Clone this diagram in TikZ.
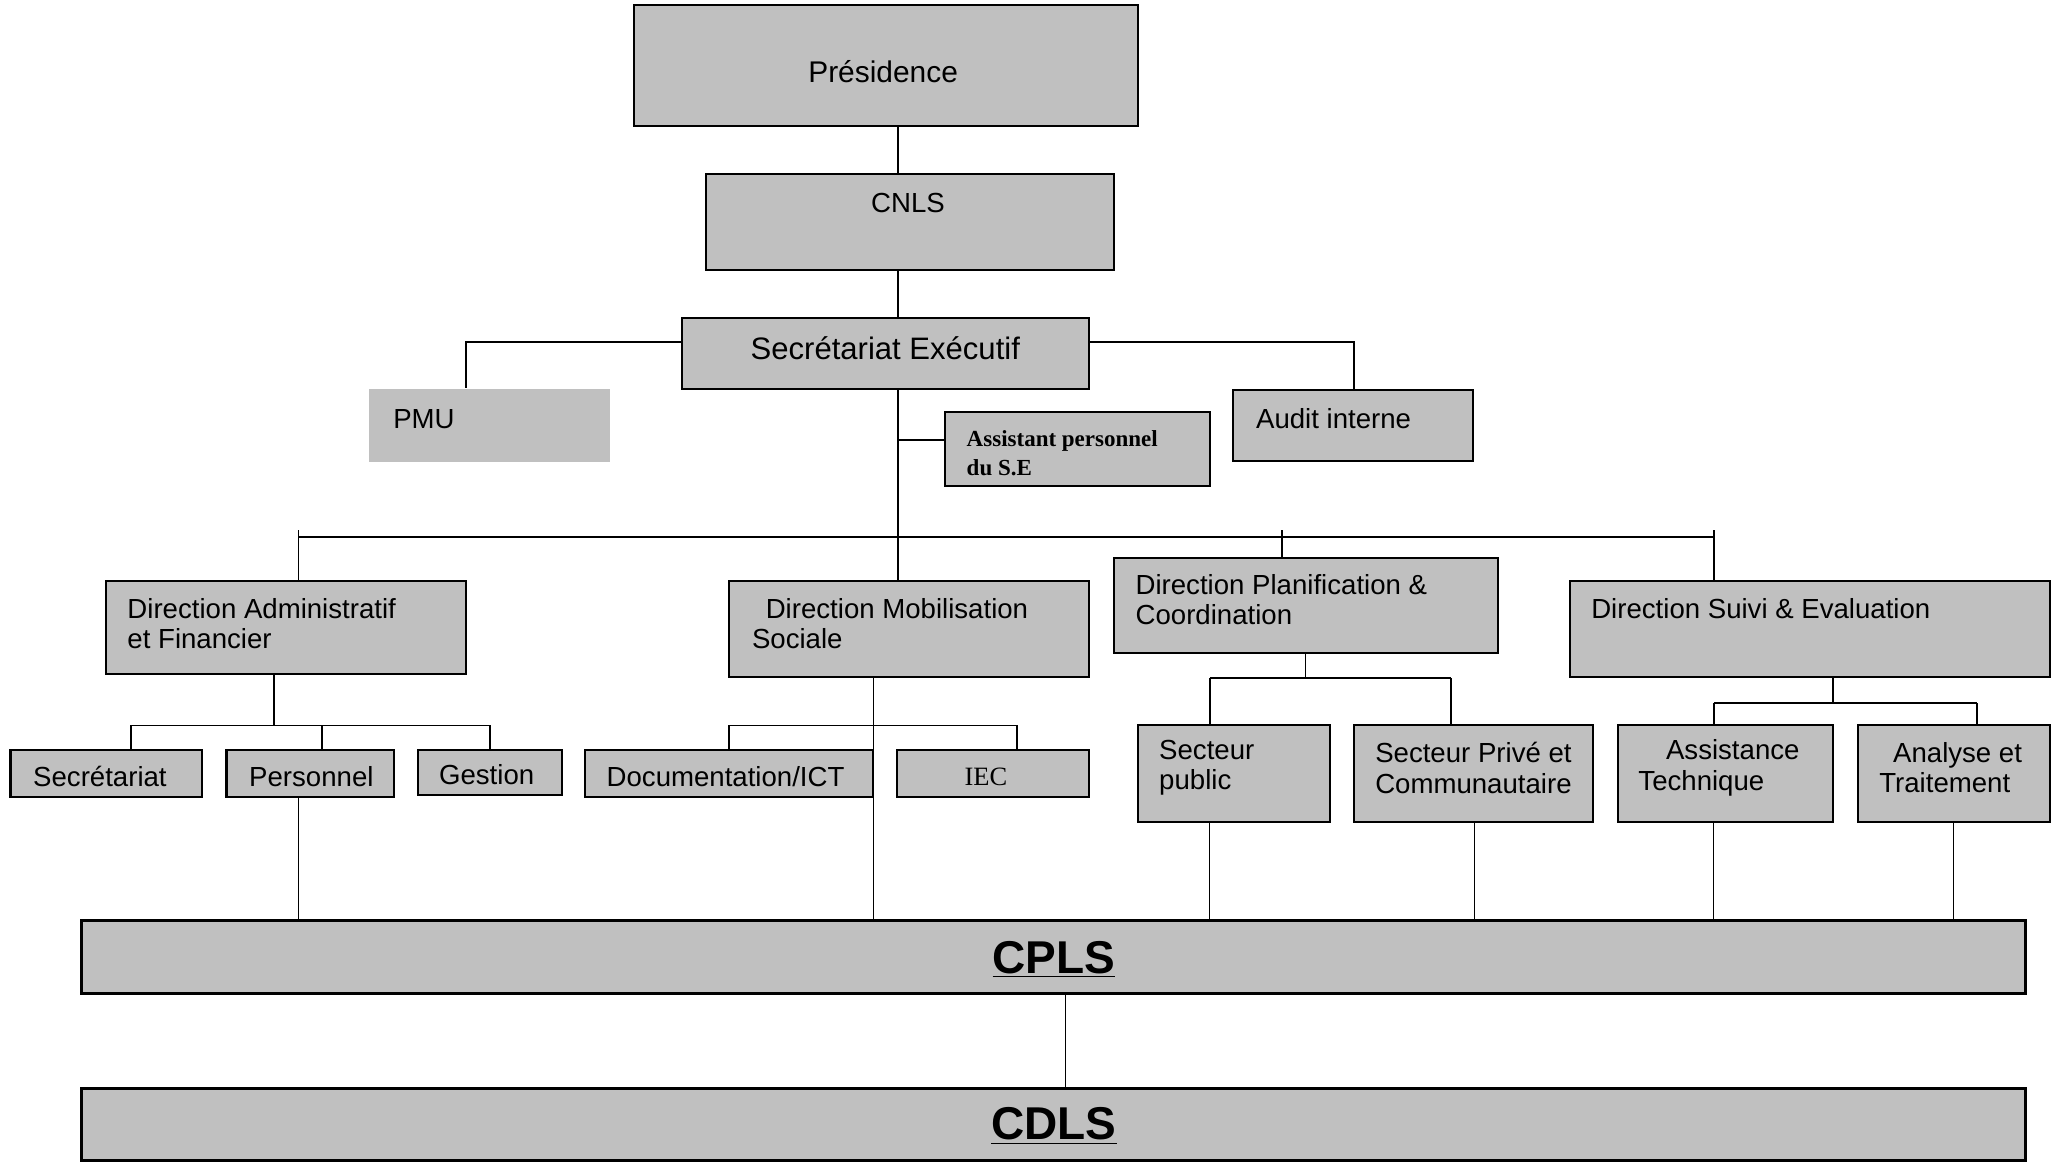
\documentclass[tikz,border=0pt]{standalone}
\usepackage{fontspec}
\setmainfont{Liberation Sans}
\newfontfamily\serifbox{Liberation Serif}
\definecolor{boxgray}{HTML}{C0C0C0}
\newcommand{\orgbox}[6][]{\node[obox,#1,minimum width={(#5-#3)*0.02cm},minimum height={(#6-#4)*0.02cm}] (#2) at ({(#3+#5)/2},{(#4+#6)/2}) {};}
\tikzset{
  obox/.style={draw=black,fill=boxgray,line width=0.9pt,inner sep=0pt,rectangle},
  conn/.style={draw=black,line width=0.75pt},
  thinconn/.style={draw=black,line width=0.5pt},
  lbl/.style={inner sep=0pt,anchor=west,align=left,font=\fontsize{12}{13.2}\selectfont},
  big/.style={inner sep=0pt,font=\fontsize{20}{22}\selectfont\bfseries}
}
\begin{document}
\begin{tikzpicture}[x=0.02cm,y=-0.02cm]
\useasboundingbox (0,0) rectangle (1568,887);
% boxes
\orgbox{pres}{484}{4}{869}{96}
\orgbox{cnls}{539}{133}{851}{206}
\orgbox{se}{521}{243}{832}{297}
\orgbox[draw=none]{pmu}{282}{297}{466}{353}
\orgbox{audit}{942}{298}{1125}{352}
\orgbox{asst}{722}{315}{924}{371}
\orgbox{daf}{81}{444}{356}{515}
\orgbox{dms}{557}{444}{832}{517}
\orgbox{dpc}{851}{426}{1144}{499}
\orgbox{dse}{1199}{444}{1566}{517}
\orgbox{sec}{8}{573}{154}{609}
\orgbox{pers}{173}{573}{301}{609}
\orgbox{gest}{319}{573}{429}{607}
\orgbox{doc}{447}{573}{667}{609}
\orgbox{iec}{685}{573}{832}{609}
\orgbox{spub}{869}{554}{1016}{628}
\orgbox{spriv}{1034}{554}{1217}{628}
\orgbox{at}{1236}{554}{1400}{628}
\orgbox{ant}{1419}{554}{1566}{628}
\orgbox[line width=1.3pt]{cpls}{62}{703}{1547}{759}
\orgbox[line width=1.3pt]{cdls}{62}{831}{1547}{886}
% texts
\node[lbl,font=\fontsize{13}{14}\selectfont] (tpres) at (617,55) {Présidence};
\node[lbl] (tcnls) at (665,155) {CNLS};
\node[lbl,font=\fontsize{13.5}{14}\selectfont] (tse) at (573,266) {Secrétariat Exécutif};
\node[lbl] (tpmu) at (300,320) {PMU};
\node[lbl] (taudit) at (959,320) {Audit interne};
\node[lbl,font=\fontsize{10}{12.4}\selectfont\serifbox\bfseries] (tasst) at (738,346) {Assistant personnel\\du S.E};
\node[lbl] (tdaf) at (97,476.5) {Direction Administratif\\et Financier};
\node[lbl] (tdms) at (574,476.5) {\hspace*{6pt}Direction Mobilisation\\Sociale};
\node[lbl] (tdpc) at (867,458) {Direction Planification \&\\Coordination};
\node[lbl] (tdse) at (1215,465) {Direction Suivi \& Evaluation};
\node[lbl] (tsec) at (25,593) {Secrétariat};
\node[lbl] (tpers) at (190,593) {Personnel};
\node[lbl] (tgest) at (335,592) {Gestion};
\node[lbl] (tdoc) at (463,593) {Documentation/ICT};
\node[inner sep=0pt,font=\fontsize{11.5}{12}\selectfont\serifbox] (tiec) at (753,593) {IEC};
\node[lbl] (tspub) at (885,586.5) {Secteur\\public};
\node[lbl] (tspriv) at (1050,586.5) {Secteur Privé et\\Communautaire};
\node[lbl] (tat) at (1251,586.5) {\hspace*{12pt}Assistance\\Technique};
\node[lbl] (tant) at (1435,586.5) {\hspace*{6pt}Analyse et\\Traitement};
\node[big] (tcpls) at (805,733) {\underline{CPLS}};
\node[big] (tcdls) at (805,860) {\underline{CDLS}};
% helper coordinates
\coordinate (xT) at (686,0);
\coordinate (yS) at (0,261);
\coordinate (xP) at (356,0);
\coordinate (xA) at (1034,0);
\coordinate (yAs) at (0,336);
\coordinate (yBus) at (0,410);
\coordinate (yTick) at (0,405);
\coordinate (xDAF) at (228,0);
\coordinate (xDPC) at (979,0);
\coordinate (xDSE) at (1309,0);
\coordinate (yB1) at (0,554);
\coordinate (xDafS) at (209,0);
\coordinate (xSec) at (100,0);
\coordinate (xPers) at (246,0);
\coordinate (xGest) at (374,0);
\coordinate (xDms) at (667,0);
\coordinate (xDoc) at (557,0);
\coordinate (xIec) at (777,0);
\coordinate (yB2) at (0,518);
\coordinate (xDpcS) at (997,0);
\coordinate (xSpub) at (924,0);
\coordinate (xSpriv) at (1108,0);
\coordinate (xSprivB) at (1126,0);
\coordinate (yB3) at (0,537);
\coordinate (xDseS) at (1400,0);
\coordinate (xAnt) at (1510,0);
\coordinate (xAntB) at (1492,0);
\coordinate (xC) at (814,0);
% connectors
\draw[conn] (pres.south -| xT) -- (cnls.north -| xT);
\draw[conn] (cnls.south -| xT) -- (se.north -| xT);
\draw[conn] (se.west |- yS) -| (pmu.north -| xP);
\draw[conn] (se.east |- yS) -| (audit.north -| xA);
\draw[conn] (se.south -| xT) -- (dms.north -| xT);
\draw[conn] (xT |- yAs) -- (asst.west |- yAs);
\draw[conn] (xDAF |- yBus) -- (xDSE |- yBus);
\draw[conn] (xDAF |- yTick) -- (daf.north -| xDAF);
\draw[conn] (xDPC |- yTick) -- (dpc.north -| xDPC);
\draw[conn] (xDSE |- yTick) -- (dse.north -| xDSE);
% DAF children
\draw[conn] (daf.south -| xDafS) -- (xDafS |- yB1);
\draw[conn] (xSec |- yB1) -- (xGest |- yB1);
\draw[conn] (xSec |- yB1) -- (sec.north -| xSec);
\draw[conn] (xPers |- yB1) -- (pers.north -| xPers);
\draw[conn] (xGest |- yB1) -- (gest.north -| xGest);
% DMS children
\draw[conn] (xDoc |- yB1) -- (xIec |- yB1);
\draw[conn] (xDoc |- yB1) -- (doc.north -| xDoc);
\draw[conn] (xIec |- yB1) -- (iec.north -| xIec);
\draw[thinconn] (dms.south -| xDms) -- (cpls.north -| xDms);
% DPC children
\draw[conn] (dpc.south -| xDpcS) -- (xDpcS |- yB2);
\draw[conn] (xSpub |- yB2) -- (xSpriv |- yB2);
\draw[conn] (xSpub |- yB2) -- (spub.north -| xSpub);
\draw[conn] (xSpriv |- yB2) -- (spriv.north -| xSpriv);
% DSE children
\draw[conn] (dse.south -| xDseS) -- (xDseS |- yB3);
\draw[conn] (xDSE |- yB3) -- (xAnt |- yB3);
\draw[conn] (xDSE |- yB3) -- (at.north -| xDSE);
\draw[conn] (xAnt |- yB3) -- (ant.north -| xAnt);
% to CPLS
\draw[thinconn] (pers.south -| xDAF) -- (cpls.north -| xDAF);
\draw[thinconn] (spub.south -| xSpub) -- (cpls.north -| xSpub);
\draw[thinconn] (spriv.south -| xSprivB) -- (cpls.north -| xSprivB);
\draw[thinconn] (at.south -| xDSE) -- (cpls.north -| xDSE);
\draw[thinconn] (ant.south -| xAntB) -- (cpls.north -| xAntB);
\draw[thinconn] (cpls.south -| xC) -- (cdls.north -| xC);
\end{tikzpicture}
\end{document}
